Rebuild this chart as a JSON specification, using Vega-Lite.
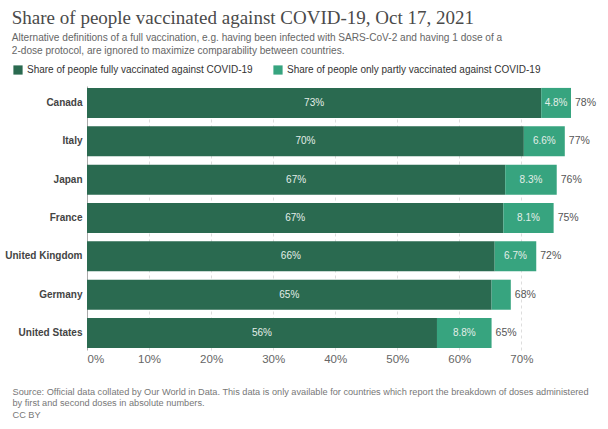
{
  "$schema": "https://vega.github.io/schema/vega-lite/v6.json",
  "width": 484,
  "height": 264,
  "padding": {"left": 4, "top": 8, "right": 5, "bottom": 3},
  "background": "white",
  "title": {
    "text": "Share of people vaccinated against COVID-19, Oct 17, 2021",
    "subtitle": ["Alternative definitions of a full vaccination, e.g. having been infected with SARS-CoV-2 and having 1 dose of a", "2-dose protocol, are ignored to maximize comparability between countries."],
    "anchor": "start",
    "frame": "bounds",
    "dx": 7,
    "font": "Liberation Serif",
    "fontSize": 19,
    "fontWeight": "normal",
    "color": "#4a4a4a",
    "subtitleFont": "Liberation Sans",
    "subtitleFontSize": 10.1,
    "subtitleColor": "#666666",
    "subtitlePadding": 5,
    "subtitleLineHeight": 13,
    "offset": 9
  },
  "config": {
    "view": {"stroke": null},
    "font": "Liberation Sans"
  },
  "data": {
    "values": [
      {"country": "Canada", "type": "Share of people fully vaccinated against COVID-19", "value": 73.2, "label": "73%", "total": 78, "totalLabel": "78%"},
      {"country": "Canada", "type": "Share of people only partly vaccinated against COVID-19", "value": 4.8, "label": "4.8%", "total": 78, "totalLabel": "78%"},
      {"country": "Italy", "type": "Share of people fully vaccinated against COVID-19", "value": 70.4, "label": "70%", "total": 77, "totalLabel": "77%"},
      {"country": "Italy", "type": "Share of people only partly vaccinated against COVID-19", "value": 6.6, "label": "6.6%", "total": 77, "totalLabel": "77%"},
      {"country": "Japan", "type": "Share of people fully vaccinated against COVID-19", "value": 67.4, "label": "67%", "total": 75.7, "totalLabel": "76%"},
      {"country": "Japan", "type": "Share of people only partly vaccinated against COVID-19", "value": 8.3, "label": "8.3%", "total": 75.7, "totalLabel": "76%"},
      {"country": "France", "type": "Share of people fully vaccinated against COVID-19", "value": 67.1, "label": "67%", "total": 75.2, "totalLabel": "75%"},
      {"country": "France", "type": "Share of people only partly vaccinated against COVID-19", "value": 8.1, "label": "8.1%", "total": 75.2, "totalLabel": "75%"},
      {"country": "United Kingdom", "type": "Share of people fully vaccinated against COVID-19", "value": 65.7, "label": "66%", "total": 72.4, "totalLabel": "72%"},
      {"country": "United Kingdom", "type": "Share of people only partly vaccinated against COVID-19", "value": 6.7, "label": "6.7%", "total": 72.4, "totalLabel": "72%"},
      {"country": "Germany", "type": "Share of people fully vaccinated against COVID-19", "value": 65.2, "label": "65%", "total": 68.3, "totalLabel": "68%"},
      {"country": "Germany", "type": "Share of people only partly vaccinated against COVID-19", "value": 3.1, "label": "", "total": 68.3, "totalLabel": "68%"},
      {"country": "United States", "type": "Share of people fully vaccinated against COVID-19", "value": 56.4, "label": "56%", "total": 65.2, "totalLabel": "65%"},
      {"country": "United States", "type": "Share of people only partly vaccinated against COVID-19", "value": 8.8, "label": "8.8%", "total": 65.2, "totalLabel": "65%"}
    ]
  },
  "transform": [
    {"stack": "value", "groupby": ["country"], "sort": [{"field": "type", "order": "ascending"}], "as": ["v0", "v1"]},
    {"calculate": "(datum.v0 + datum.v1) / 2", "as": "mid"}
  ],
  "encoding": {
    "y": {
      "field": "country",
      "type": "nominal",
      "sort": null,
      "scale": {"paddingInner": 0.217, "paddingOuter": 0.05},
      "axis": {
        "title": null,
        "ticks": false,
        "domain": false,
        "labelFontWeight": "bold",
        "labelFontSize": 10,
        "labelColor": "#444444",
        "labelPadding": 5
      }
    }
  },
  "layer": [
    {
      "mark": {"type": "bar"},
      "encoding": {
        "x": {
          "field": "v0",
          "type": "quantitative",
          "scale": {"domain": [0, 78], "nice": false},
          "axis": {
            "values": [0, 10, 20, 30, 40, 50, 60, 70],
            "labelExpr": "datum.value + '%'",
            "labelFontSize": 11.5,
            "labelColor": "#666666",
            "labelPadding": 3,
            "labelAlign": {"condition": {"test": "datum.value == 0", "value": "left"}, "value": "center"},
            "ticks": false,
            "domain": false,
            "grid": true,
            "gridDash": {"condition": {"test": "datum.value == 0", "value": []}, "value": [3, 3]},
            "gridColor": {"condition": {"test": "datum.value == 0", "value": "#aaaaaa"}, "value": "#dddddd"},
            "title": ["Source: Official data collated by Our World in Data. This data is only available for countries which report the breakdown of doses administered", "by first and second doses in absolute numbers.", "CC BY"],
            "titleFont": "Liberation Sans",
            "titleFontSize": 9.2,
            "titleFontWeight": "normal",
            "titleColor": "#777777",
            "titleAnchor": "start",
            "titleAlign": "left",
            "titleBaseline": "top",
            "titleX": -75,
            "titleY": 37,
            "titleLineHeight": 11.5
          }
        },
        "x2": {"field": "v1"},
        "color": {
          "field": "type",
          "type": "nominal",
          "scale": {
            "domain": ["Share of people fully vaccinated against COVID-19", "Share of people only partly vaccinated against COVID-19"],
            "range": ["#2a6a50", "#37a47f"]
          },
          "legend": {
            "title": null,
            "orient": "none",
            "legendX": -74,
            "legendY": -21,
            "direction": "horizontal",
            "symbolType": "square",
            "symbolSize": 85,
            "symbolStrokeWidth": 0,
            "labelFontSize": 10,
            "labelOffset": 4,
            "labelColor": "#333333",
            "columnPadding": 20,
            "labelLimit": 400
          }
        }
      }
    },
    {
      "mark": {"type": "text", "fontSize": 10, "color": "#e3eee8"},
      "encoding": {
        "x": {"field": "mid", "type": "quantitative"},
        "text": {"field": "label"}
      }
    },
    {
      "transform": [{"filter": "datum.type == 'Share of people fully vaccinated against COVID-19'"}],
      "mark": {"type": "text", "fontSize": 10.5, "color": "#555555", "align": "left", "dx": 4},
      "encoding": {
        "x": {"field": "total", "type": "quantitative"},
        "text": {"field": "totalLabel"}
      }
    }
  ]
}
